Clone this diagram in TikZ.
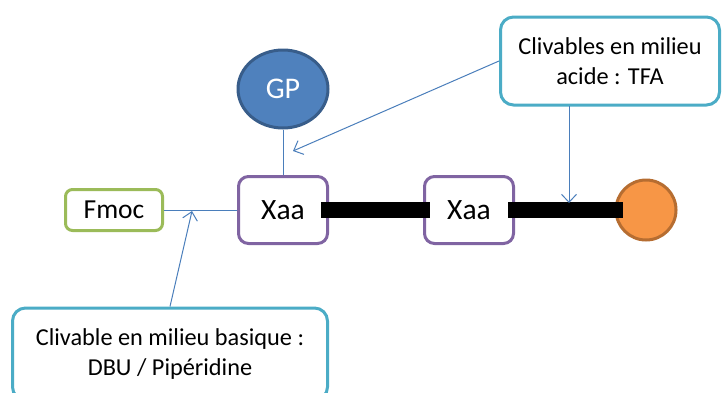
\documentclass[tikz,border=0pt]{standalone}
\usepackage{fontspec}
\setmainfont{Carlito}
\usetikzlibrary{arrows.meta,shapes.geometric}
\definecolor{gpfill}{HTML}{4F81BD}
\definecolor{gpline}{HTML}{385D8A}
\definecolor{xaaline}{HTML}{8064A2}
\definecolor{fmocline}{HTML}{9BBB59}
\definecolor{callline}{HTML}{4BACC6}
\definecolor{beadfill}{HTML}{F79646}
\definecolor{beadline}{HTML}{B66D31}
\definecolor{arrowcol}{HTML}{4A7EBB}
\tikzset{
  xaabox/.style={draw=xaaline, line width=3pt, rounded corners=10pt, fill=white,
    minimum width=89pt, minimum height=67pt, inner sep=0pt, font=\fontsize{29.5}{32}\selectfont},
  fmocbox/.style={draw=fmocline, line width=3pt, rounded corners=7pt, fill=white,
    minimum width=97pt, minimum height=41pt, inner sep=0pt, font=\fontsize{27.5}{30}\selectfont},
  callbox/.style={draw=callline, line width=3pt, rounded corners=13pt, fill=white,
    inner sep=0pt, align=center, font=\fontsize{24.3}{29.5}\selectfont},
  gpnode/.style={ellipse, draw=gpline, line width=3pt, fill=gpfill, text=white,
    minimum width=90pt, minimum height=78pt, inner sep=0pt, font=\fontsize{30}{32}\selectfont},
  beadnode/.style={circle, draw=beadline, line width=3pt, fill=beadfill,
    minimum size=60pt, inner sep=0pt},
  bar/.style={line width=16pt, black},
  thinline/.style={draw=arrowcol, line width=1pt},
  callarrow/.style={thinline, -{Straight Barb[length=8pt,width=15pt]}},
}
\begin{document}
\begin{tikzpicture}[x=1pt,y=-1pt]
\useasboundingbox (0,0) rectangle (722,392);
\node[gpnode] (gp) at (283,89) {GP};
\node[xaabox] (xaa1) at (283,210) {Xaa};
\node[xaabox] (xaa2) at (469,210) {Xaa};
\node[beadnode] (bead) at (646,210) {};
\node[fmocbox] (fmoc) at (114,210) {Fmoc};
\node[callbox, minimum width=219pt, minimum height=88pt] (acid) at (610,61) {Clivables en milieu\\acide : TFA};
\node[callbox, minimum width=315pt, minimum height=92pt] (base) at (170,354) {Clivable en milieu basique :\\DBU / Pipéridine};
\draw[thinline] (gp.south) -- (xaa1.north);
\draw[thinline] (fmoc.east) -- (xaa1.west);
\draw[bar] ([xshift=-8pt]xaa1.east) -- ([xshift=7pt]xaa2.west);
\draw[bar] ([xshift=-7pt]xaa2.east) -- ([xshift=8pt]bead.west);
\coordinate (gptip) at (293,151);
\coordinate (bartip) at (569,203);
\coordinate (acidout) at (569,106);
\coordinate (fmoctip) at (192,211);
\draw[callarrow] (acid.west) -- (gptip);
\draw[callarrow] (acidout) -- (bartip);
\draw[callarrow] (base.north) -- (fmoctip);
\end{tikzpicture}
\end{document}
